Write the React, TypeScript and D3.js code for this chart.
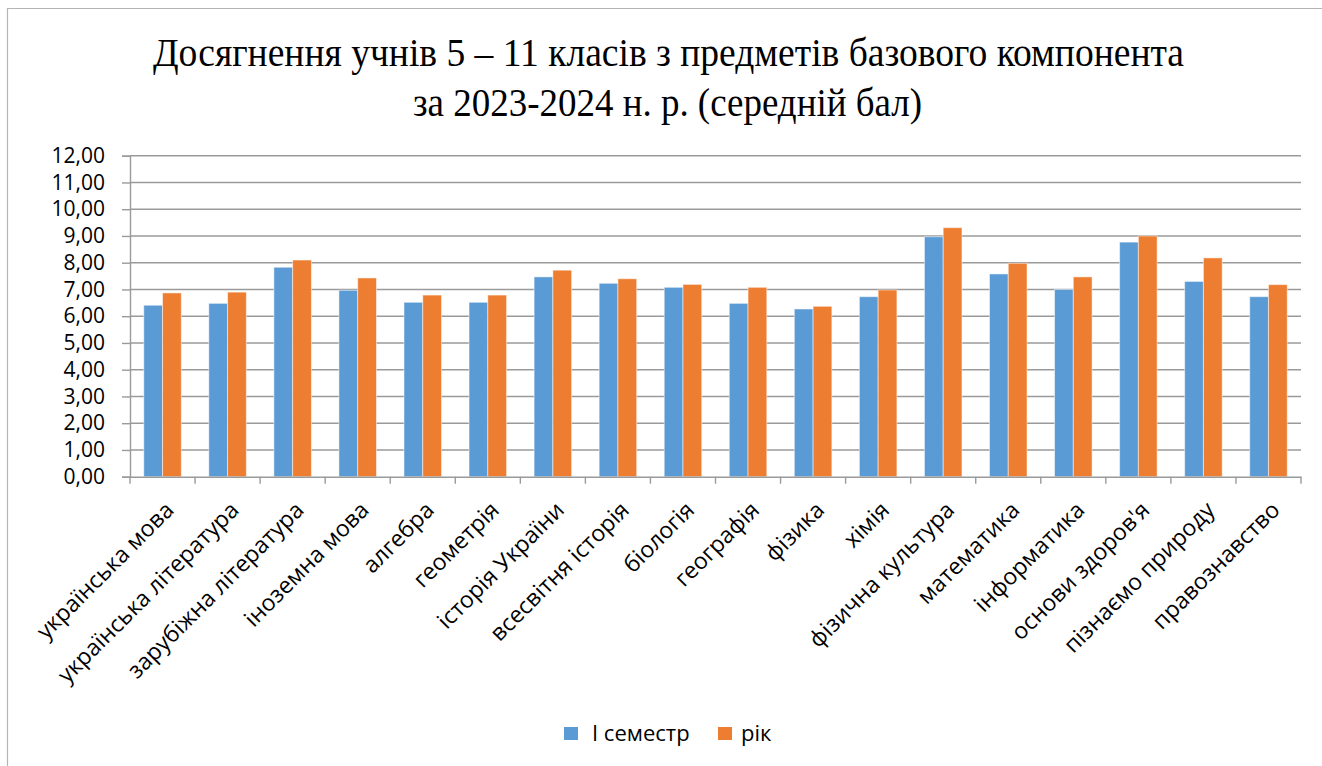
import { useEffect, useRef } from "react"
import * as d3 from "d3"

// subjects along the x axis
const subjects = [
  "українська мова",
  "українська література",
  "зарубіжна література",
  "іноземна мова",
  "алгебра",
  "геометрія",
  "історія України",
  "всесвітня історія",
  "біологія",
  "географія",
  "фізика",
  "хімія",
  "фізична культура",
  "математика",
  "інформатика",
  "основи здоров'я",
  "пізнаємо природу",
  "правознавство",
]

const seriesNames = ["І семестр", "рік"]
const seriesColors = ["#5B9BD5", "#ED7D31"]

// average scores
const semesterValues = [6.41, 6.48, 7.83, 6.97, 6.52, 6.52, 7.47, 7.23, 7.08, 6.48, 6.27, 6.73, 8.97, 7.58, 7.0, 8.77, 7.3, 6.73]
const yearValues = [6.87, 6.9, 8.1, 7.43, 6.79, 6.79, 7.72, 7.4, 7.19, 7.08, 6.37, 6.98, 9.31, 7.98, 7.47, 9.0, 8.18, 7.18]

const yTicks = [0, 1, 2, 3, 4, 5, 6, 7, 8, 9, 10, 11, 12]

const titleLine1 = "Досягнення учнів  5 – 11 класів з предметів базового компонента"
const titleLine2 = "за 2023-2024 н. р. (середній бал)"

export default function App() {
  const svgRef = useRef<SVGSVGElement>(null)

  useEffect(() => {
    if (!svgRef.current) return
    const svg = d3.select(svgRef.current)
    svg.selectAll("*").remove()

    const width = 1322
    const height = 766
    const left = 130
    const right = 1301
    const top = 155.7
    const bottom = 476.7
    const font = "'Open Sans', 'Noto Sans', sans-serif"

    svg.attr("width", width).attr("height", height)

    svg.append("rect").attr("width", width).attr("height", height).attr("fill", "#fff")

    // chart frame (left and top edges only visible)
    svg
      .append("path")
      .attr("d", `M7.5,${height} V8.5 H${width}`)
      .attr("fill", "none")
      .attr("stroke", "#b4b4b4")
      .attr("stroke-width", 1.2)

    // title
    const title = svg
      .append("g")
      .style("font-family", "'Liberation Serif', 'Times New Roman', serif")
      .style("fill", "#000")
      .style("white-space", "pre")
    title
      .append("text")
      .attr("x", 153)
      .attr("y", 66)
      .attr("textLength", 1031)
      .attr("lengthAdjust", "spacingAndGlyphs")
      .style("font-size", "40px")
      .text(titleLine1)
    title
      .append("text")
      .attr("x", 413)
      .attr("y", 116)
      .attr("textLength", 509)
      .attr("lengthAdjust", "spacingAndGlyphs")
      .style("font-size", "40px")
      .text(titleLine2)

    const y = d3.scaleLinear().domain([0, 12]).range([bottom, top])
    const x0 = d3.scaleBand<string>().domain(subjects).range([left, right]).padding(0)
    const x1 = d3
      .scaleBand<string>()
      .domain(seriesNames)
      .range([0, x0.bandwidth()])
      .paddingInner(0)
      .paddingOuter(0.733)

    // gridlines
    svg
      .append("g")
      .selectAll("line")
      .data(yTicks.slice(1))
      .enter()
      .append("line")
      .attr("x1", left)
      .attr("x2", right)
      .attr("y1", (d) => y(d))
      .attr("y2", (d) => y(d))
      .attr("stroke", "#9a9a9a")
      .attr("stroke-width", 1.4)

    // y axis
    const yAxis = svg
      .append("g")
      .attr("transform", `translate(${left},0)`)
      .call(
        d3
          .axisLeft(y)
          .tickValues(yTicks)
          .tickSize(8)
          .tickPadding(17)
          .tickFormat((d) => d3.format(".2f")(d as number).replace(".", ","))
      )
    yAxis.select(".domain").attr("stroke", "#9a9a9a").attr("stroke-width", 1.4)
    yAxis.selectAll(".tick line").attr("stroke", "#9a9a9a").attr("stroke-width", 1.4)
    yAxis
      .selectAll(".tick text")
      .style("font-family", font)
      .style("font-size", "21px")
      .style("fill", "#000")

    // bars
    const data = [semesterValues, yearValues]
    const groups = svg
      .append("g")
      .selectAll("g")
      .data(subjects)
      .enter()
      .append("g")
      .attr("transform", (d) => `translate(${x0(d)},0)`)

    groups
      .selectAll("rect")
      .data((d, i) => seriesNames.map((s, k) => ({ s, k, v: data[k][i] })))
      .enter()
      .append("rect")
      .attr("x", (d) => x1(d.s)!)
      .attr("width", x1.bandwidth())
      .attr("y", (d) => y(d.v))
      .attr("height", (d) => bottom - y(d.v))
      .attr("fill", (d) => seriesColors[d.k])
      .attr("stroke", "#ffffff")
      .attr("stroke-opacity", 0.5)
      .attr("stroke-width", 1)

    // x axis
    const xAxis = svg
      .append("g")
      .attr("transform", `translate(0,${bottom})`)
      .call(d3.axisBottom(x0).tickSize(0).tickFormat(() => ""))
    xAxis.select(".domain").attr("stroke", "#9a9a9a").attr("stroke-width", 1.4)
    xAxis.selectAll(".tick").remove()

    // x ticks at category boundaries
    svg
      .append("g")
      .selectAll("line")
      .data(d3.range(subjects.length + 1))
      .enter()
      .append("line")
      .attr("x1", (i) => left + i * x0.step())
      .attr("x2", (i) => left + i * x0.step())
      .attr("y1", bottom)
      .attr("y2", bottom + 7)
      .attr("stroke", "#9a9a9a")
      .attr("stroke-width", 1.4)

    // rotated category labels
    svg
      .append("g")
      .selectAll("text")
      .data(subjects)
      .enter()
      .append("text")
      .attr("transform", (d) => `translate(${x0(d)! + x0.bandwidth() / 2 + 7},${bottom + 29}) rotate(-45)`)
      .attr("text-anchor", "end")
      .attr("dy", "0.35em")
      .style("font-family", font)
      .style("font-size", "23px")
      .style("fill", "#000")
      .text((d) => d)

    // legend
    const legendX = [564, 718]
    const legend = svg
      .append("g")
      .selectAll("g")
      .data(seriesNames)
      .enter()
      .append("g")
      .attr("transform", (d, i) => `translate(${legendX[i]},727)`)
    legend
      .append("rect")
      .attr("width", 14)
      .attr("height", 13)
      .attr("fill", (d, i) => seriesColors[i])
    legend
      .append("text")
      .attr("x", (d, i) => (i === 0 ? 28 : 23))
      .attr("y", 14)
      .style("font-family", font)
      .style("font-size", "22px")
      .style("fill", "#000")
      .text((d) => d)
  }, [])

  return (
    <div style={{ position: "absolute", left: 0, top: 0 }}>
      <svg ref={svgRef}></svg>
    </div>
  )
}
